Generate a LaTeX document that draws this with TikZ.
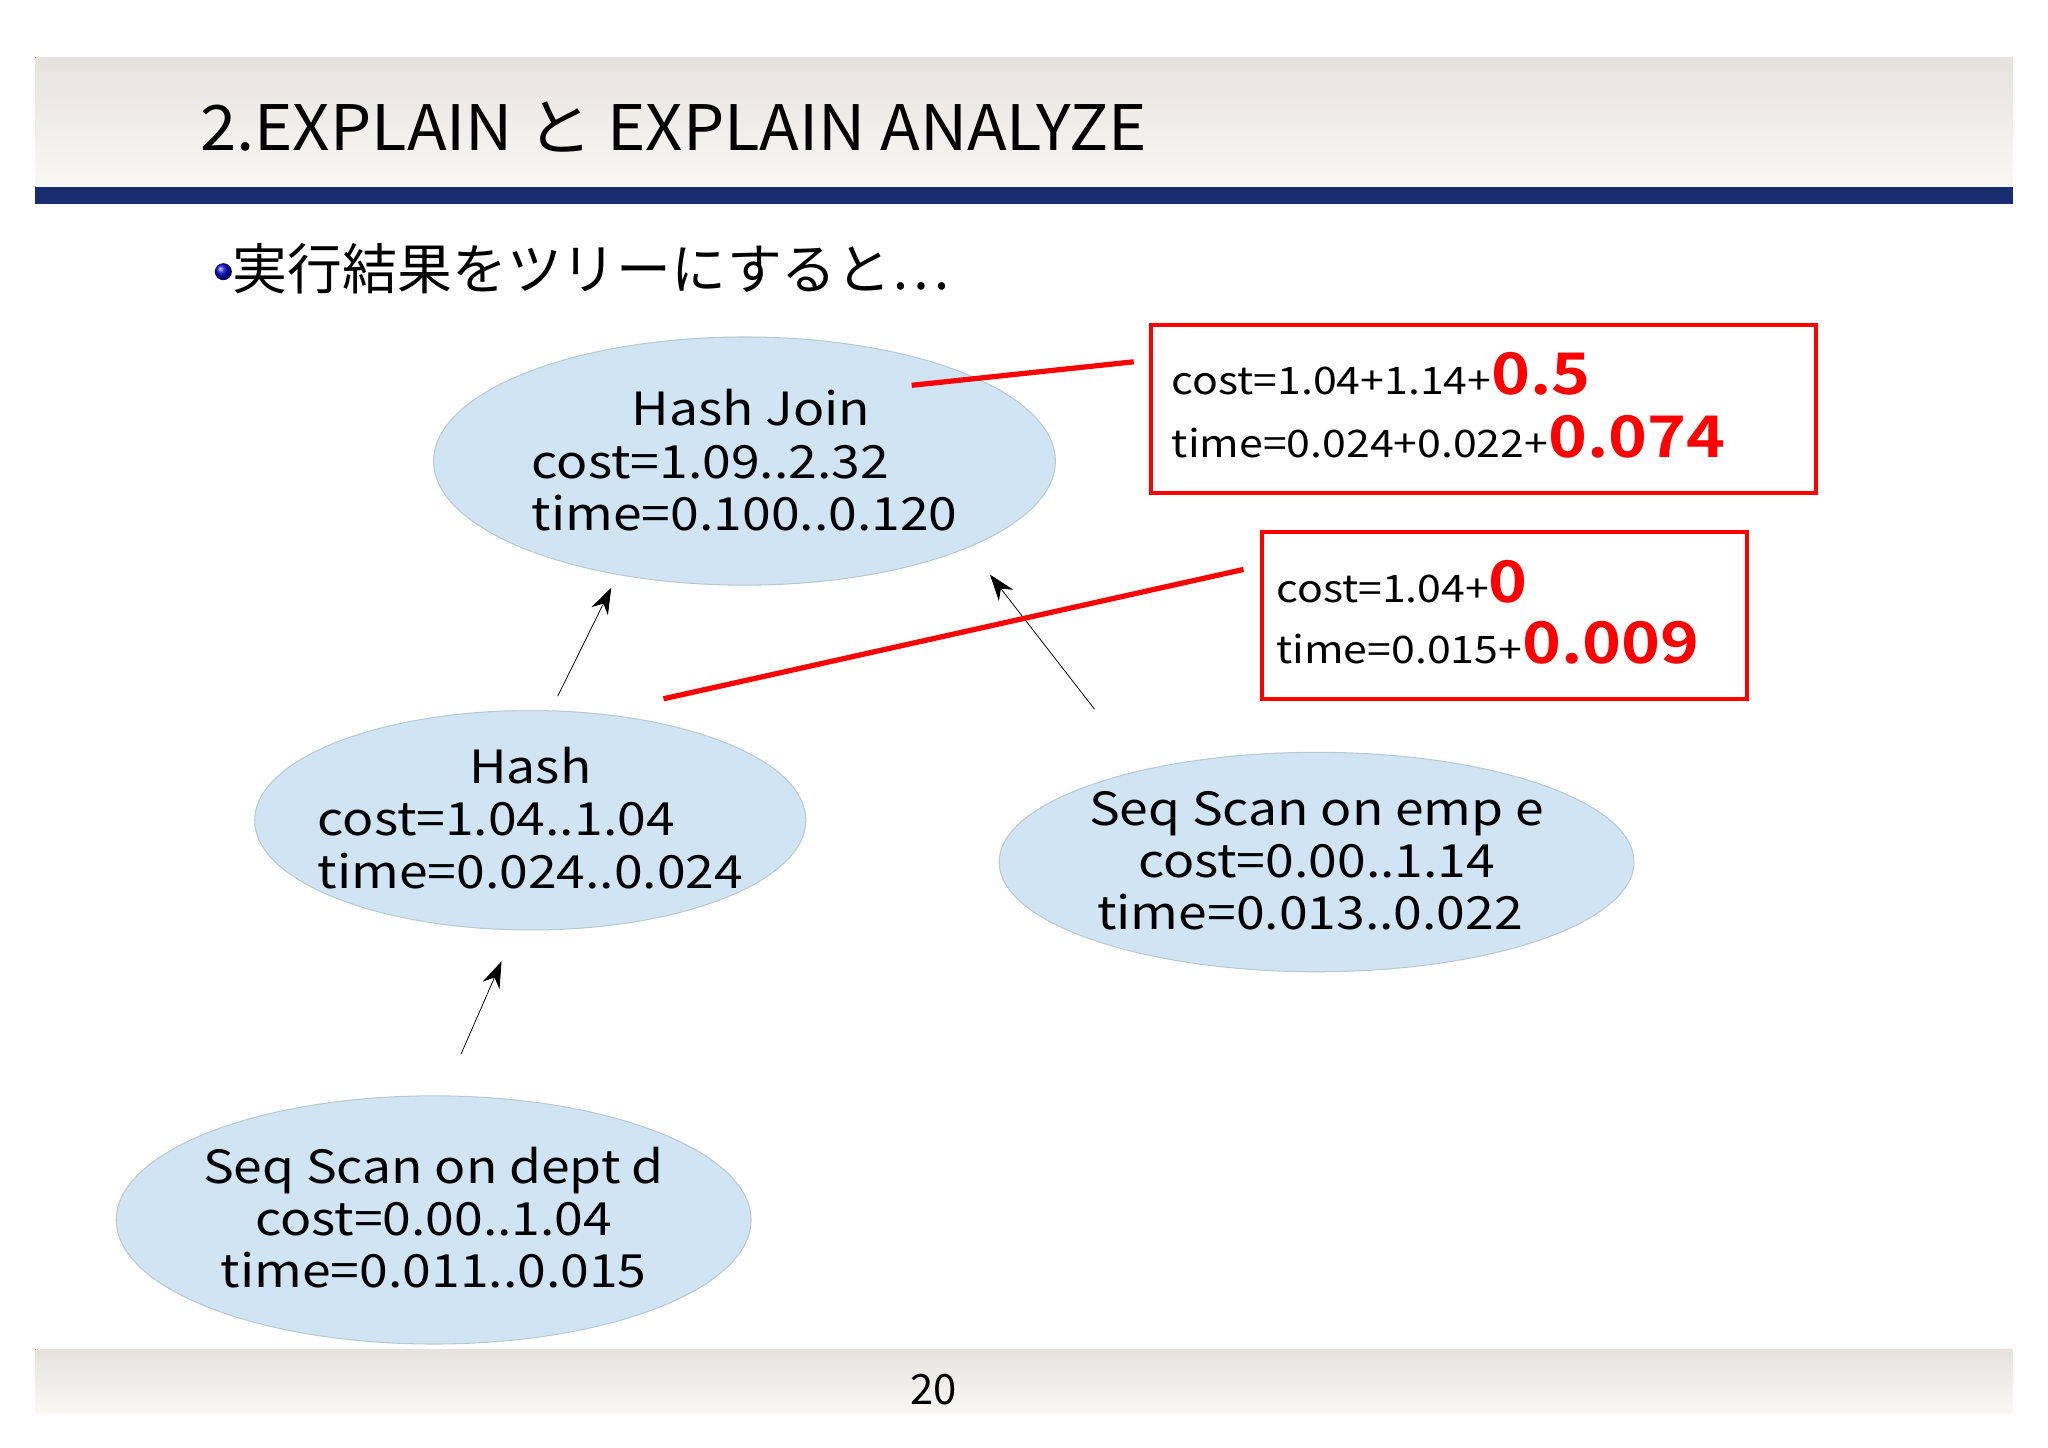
\documentclass[tikz,border=0pt]{standalone}
\usepackage{fontspec}
\usetikzlibrary{arrows.meta}
\setmainfont{Noto Sans CJK JP}
\newfontfamily\wide[FakeStretch=1.13]{Noto Sans CJK JP}
\newfontfamily\wideb[FakeStretch=1.15]{Noto Sans CJK JP Bold}
\newfontfamily\titlef[FakeStretch=1.04]{Noto Sans CJK JP}
\begin{document}
\begin{tikzpicture}[x=1pt,y=-1pt,
  el/.style={draw=black!20!cyan!30!gray!50, fill=elfill, line width=0.8pt},
  t/.style={font=\wide\fontsize{35}{40}\selectfont, inner sep=0pt, anchor=base},
  tl/.style={t, anchor=base west},
  bt/.style={font=\wide\fontsize{29}{34}\selectfont, inner sep=0pt, anchor=base west},
  rb/.style={draw=red, line width=3pt},
  arr/.style={-{Stealth[length=20pt,width=14pt]}, line width=0.6pt}]
\definecolor{elfill}{HTML}{D0E4F4}
\useasboundingbox (0,0) rectangle (1568,1108);
\fill[white] (0,0) rectangle (1568,1108);
\definecolor{beige}{HTML}{F1EEE7}
\definecolor{navy}{HTML}{1A2D6E}
\fill[top color=beige!90!gray, bottom color=beige!40] (27,44) rectangle (1541,143);
\fill[navy] (27,143) rectangle (1541,156);
\node[inner sep=0pt,anchor=base west,font=\titlef\fontsize{48}{50}\selectfont] (title) at (153,115) {2.EXPLAIN と EXPLAIN ANALYZE};
\fill[top color=beige!90!gray, bottom color=beige!40] (27,1033) rectangle (1541,1082);
\node[inner sep=0pt,anchor=base,font=\fontsize{32}{34}\selectfont] (pg) at (715,1075) {20};
\shade[ball color=blue!80!black] (171,208) circle (6.5);
\node[inner sep=0pt,anchor=base west,font=\fontsize{42}{44}\selectfont] (bul) at (178,222) {実行結果をツリーにすると⋯};
% ellipses
\draw[el] (570,353) ellipse (238 and 95);
\draw[el] (406,628) ellipse (211 and 84);
\draw[el] (1008,660) ellipse (243 and 84);
\draw[el] (332,934) ellipse (243 and 95);
\node[t] (hj1) at (575,326) {Hash Join};
\node[tl] (hj2) at (407,366) {cost=1.09..2.32};
\node[tl] (hj3) at (407,406) {time=0.100..0.120};
\node[t] (h1) at (406,600) {Hash};
\node[tl] (h2) at (243,640) {cost=1.04..1.04};
\node[tl] (h3) at (243,680) {time=0.024..0.024};
\node[t] (e1) at (1008,632) {Seq Scan on emp e};
\node[t] (e2) at (1008,672) {cost=0.00..1.14};
\node[t] (e3) at (1003,712) {time=0.013..0.022};
\node[t] (d1) at (332,906) {Seq Scan on dept d};
\node[t] (d2) at (332,946) {cost=0.00..1.04};
\node[t] (d3) at (332,986) {time=0.011..0.015};
% arrows
\coordinate (a1s) at (427,533); \coordinate (a1e) at (468,450);
\coordinate (a2s) at (353,807); \coordinate (a2e) at (384,736);
\coordinate (a3s) at (838,543); \coordinate (a3e) at (758,440);
\draw[arr] (a1s) -- (a1e);
\draw[arr] (a2s) -- (a2e);
\draw[arr] (a3s) -- (a3e);
% red boxes
\node[rb, minimum width=509pt, minimum height=129pt, anchor=north west, inner sep=0pt] (b1) at (880,247) {};
\node[rb, minimum width=371pt, minimum height=128pt, anchor=north west, inner sep=0pt] (b2) at (965,406) {};
\node[bt] (b1a) at (897,302) {cost=1.04+1.14+{\color{red}\wideb\fontsize{44}{44}\selectfont 0.5}};
\node[bt] (b1b) at (897,350) {time=0.024+0.022+{\color{red}\wideb\fontsize{44}{44}\selectfont 0.074}};
\node[bt] (b2a) at (977,461) {cost=1.04+{\color{red}\wideb\fontsize{44}{44}\selectfont 0}};
\node[bt] (b2b) at (977,508) {time=0.015+{\color{red}\wideb\fontsize{44}{44}\selectfont 0.009}};
\coordinate (r1s) at (698,295); \coordinate (r2s) at (508,535);
\draw[red, line width=4pt] (r1s) -- (868,277);
\draw[red, line width=4pt] (r2s) -- (952,436);
\end{tikzpicture}
\end{document}
